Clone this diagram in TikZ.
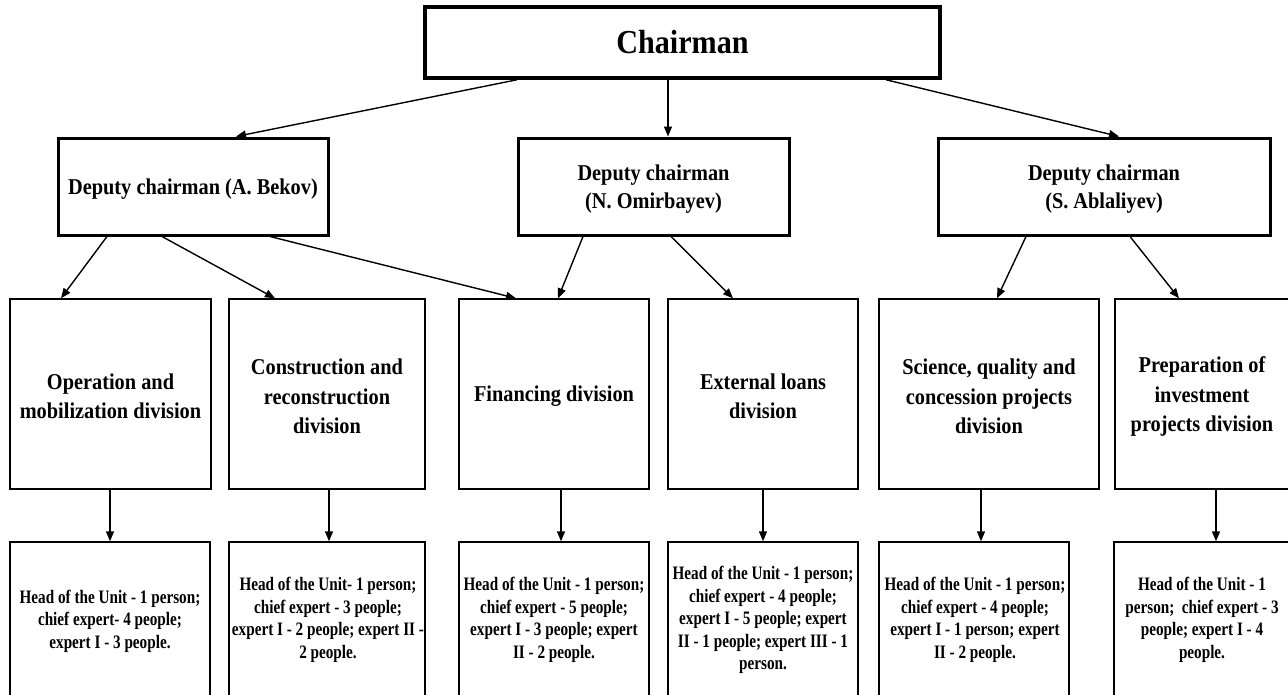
\documentclass[tikz,border=0pt]{standalone}
\usepackage{fontspec}
\setmainfont{Liberation Serif}
\newfontfamily\headfont[FakeStretch=0.9]{Liberation Serif}
\newfontfamily\smallfont[FakeStretch=0.8]{Liberation Serif}
\usetikzlibrary{arrows.meta,calc}
\tikzset{
  topbox/.style={draw, line width=3.5pt, inner sep=0pt, minimum width=515pt, minimum height=71pt,
    font=\headfont\bfseries\fontsize{33.5}{38}\selectfont},
  depbox/.style={draw, line width=3pt, inner sep=0pt, minimum height=97pt},
  deptext/.style={inner sep=0pt, align=center, yshift=-3pt,
    font=\headfont\bfseries\fontsize{22.6}{28}\selectfont},
  divbox/.style={draw, line width=1.4pt, inner sep=0pt, minimum height=190pt},
  divtext/.style={inner sep=0pt, align=center, yshift=-2.5pt,
    font=\headfont\bfseries\fontsize{22.6}{29.5}\selectfont},
  staffbox/.style={draw, line width=1.4pt, inner sep=0pt, minimum height=178pt},
  stafftext/.style={inner sep=0pt, align=center,
    font=\smallfont\bfseries\fontsize{19}{22.5}\selectfont},
  arr/.style={-{Triangle[length=10pt,width=8pt]}, line width=1.4pt}
}
\begin{document}
\begin{tikzpicture}[x=1pt,y=-1pt]
\useasboundingbox (0,0) rectangle (1288,694);
\clip (0,0) rectangle (1288,694);
\fill[white] (0,0) rectangle (1288,694);

% chairman
\node[topbox] (ch) at (682.5,42.5) {Chairman};

% deputies
\node[depbox, minimum width=270pt, label={[deptext]center:{Deputy chairman (A. Bekov)}}] (d1) at (193,186.5) {};
\node[depbox, minimum width=271pt, label={[deptext]center:{Deputy chairman\\(N. Omirbayev)}}] (d2) at (653.5,186.5) {};
\node[depbox, minimum width=332pt, label={[deptext]center:{Deputy chairman\\(S. Ablaliyev)}}] (d3) at (1104,186.5) {};

% divisions
\node[divbox, minimum width=201pt, label={[divtext]center:{Operation and\\mobilization division}}] (v1) at (110.5,394) {};
\node[divbox, minimum width=196pt, label={[divtext]center:{Construction and\\reconstruction\\division}}] (v2) at (327,394) {};
\node[divbox, minimum width=190pt, label={[divtext]center:{Financing division}}] (v3) at (554,394) {};
\node[divbox, minimum width=190pt, label={[divtext]center:{External loans\\division}}] (v4) at (763,394) {};
\node[divbox, minimum width=220pt, label={[divtext]center:{Science, quality and\\concession projects\\division}}] (v5) at (989,394) {};
\node[divbox, minimum width=174pt, label={[divtext]center:{Preparation of\\investment\\projects division}}] (v6) at (1202,394) {};

% staff boxes
\node[staffbox, minimum width=200pt] (b1) at (110,631) {};
\node[staffbox, minimum width=196pt] (b2) at (327,631) {};
\node[staffbox, minimum width=190pt] (b3) at (554,631) {};
\node[staffbox, minimum width=190pt] (b4) at (763,631) {};
\node[staffbox, minimum width=190pt] (b5) at (974,631) {};
\node[staffbox, minimum width=176pt] (b6) at (1202,631) {};

\node[stafftext] (t1) at (110,621) {Head of the Unit - 1 person;\\chief expert- 4 people;\\expert I - 3 people.};
\node[stafftext] (t2) at (328,620) {Head of the Unit- 1 person;\\chief expert - 3 people;\\expert I - 2 people; expert II -\\2 people.};
\node[stafftext] (t3) at (554,620) {Head of the Unit - 1 person;\\chief expert - 5 people;\\expert I - 3 people; expert\\II - 2 people.};
\node[stafftext] (t4) at (763,620) {Head of the Unit - 1 person;\\chief expert - 4 people;\\expert I - 5 people; expert\\II - 1 people; expert III - 1\\person.};
\node[stafftext] (t5) at (975,620) {Head of the Unit - 1 person;\\chief expert - 4 people;\\expert I - 1 person; expert\\II - 2 people.};
\node[stafftext] (t6) at (1202,620) {Head of the Unit - 1\\person;\ \ chief expert - 3\\people; expert I - 4\\people.};

% chairman -> deputies
\draw[arr] ([xshift=-165.5pt]ch.south) -- ([xshift=43pt]d1.north);
\draw[arr] ([xshift=-14.5pt]ch.south) -- ([xshift=14.5pt]d2.north);
\draw[arr] ([xshift=203.5pt]ch.south) -- ([xshift=15pt]d3.north);

% deputies -> divisions
\draw[arr] ([xshift=-86pt]d1.south) -- ([xshift=-49.5pt]v1.north);
\draw[arr] ([xshift=-31pt]d1.south) -- ([xshift=-52pt]v2.north);
\draw[arr] ([xshift=77pt]d1.south) -- ([xshift=-38pt]v3.north);
\draw[arr] ([xshift=-70.5pt]d2.south) -- ([xshift=4pt]v3.north);
\draw[arr] ([xshift=17.5pt]d2.south) -- ([xshift=-30pt]v4.north);
\draw[arr] ([xshift=-78pt]d3.south) -- ([xshift=8pt]v5.north);
\draw[arr] ([xshift=26pt]d3.south) -- ([xshift=-23pt]v6.north);

% divisions -> staff
\draw[arr] ([xshift=-0.5pt]v1.south) -- (b1.north);
\draw[arr] ([xshift=2pt]v2.south) -- ([xshift=2pt]b2.north);
\draw[arr] ([xshift=7pt]v3.south) -- ([xshift=7pt]b3.north);
\draw[arr] (v4.south) -- (b4.north);
\draw[arr] ([xshift=-8pt]v5.south) -- ([xshift=7pt]b5.north);
\draw[arr] ([xshift=14pt]v6.south) -- ([xshift=14pt]b6.north);
\end{tikzpicture}
\end{document}
